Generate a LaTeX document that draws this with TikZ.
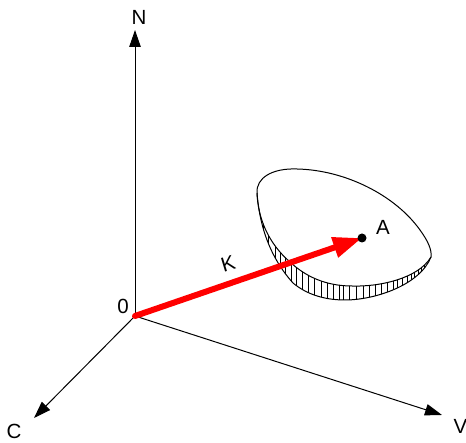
\documentclass[tikz,border=0pt]{standalone}
\usepackage{xcolor}
\usepackage{fontspec}
\setmainfont{Liberation Sans}
\usetikzlibrary{arrows.meta, calc}
\definecolor{vecred}{HTML}{FF0000}
\tikzset{
  lab/.style={font=\fontsize{20.5}{23}\selectfont, text=black, inner sep=0pt},
  axis/.style={-{Triangle[length=17pt,width=11.5pt]}, line width=1pt, draw=black},
  vec/.style={-{Triangle[length=29pt,width=20pt]}, line width=6pt, draw=vecred, line cap=round},
  rim/.style={line width=1pt, draw=black},
  hatch/.style={line width=0.7pt, draw=black},
}

\begin{document}
\begin{tikzpicture}[x=1pt, y=-1pt]
  \clip (0,0) rectangle (466,443);
  \coordinate (o) at (135,316);
  \coordinate (ntip) at (135,30);
  \coordinate (ctip) at (34,418);
  \coordinate (vtip) at (442,415);
  \coordinate (a) at (362,238);
  \coordinate (bl) at (257,193);
  \coordinate (br) at (431,257);
  % hatching between the two lower edges
  \begin{scope}
    \clip (bl) .. controls (259,218) and (266,253) .. (293,283)
      .. controls (305,293) and (322,300) .. (345,300)
      .. controls (375,300) and (420,285) .. (br)
      .. controls (418,279) and (378,287) .. (352,286)
      .. controls (325,286) and (305,276) .. (290,262)
      .. controls (268,243) and (258,218) .. (bl) -- cycle;
    \foreach \hx in {259,263,268,275,280,285,291,296,302,308,314,321,327,333,339,343,349,356,363,369,375,381,387,393,397,402,407,411,414,418,421,424} {
      \draw[hatch] (\hx,190) -- (\hx,305);
    }
  \end{scope}
  % upper face
  \draw[rim] (bl) .. controls (256,178) and (272,168) .. (297,169)
    .. controls (345,170) and (395,195) .. (420,230)
    .. controls (428,241) and (432,250) .. (br)
    .. controls (418,279) and (378,287) .. (352,286)
    .. controls (325,286) and (305,276) .. (290,262)
    .. controls (268,243) and (258,218) .. (bl) -- cycle;
  % underside
  \draw[rim] (bl) .. controls (259,218) and (266,253) .. (293,283)
    .. controls (305,293) and (322,300) .. (345,300)
    .. controls (375,300) and (420,285) .. (br);
  % axes
  \draw[axis] (o) -- (ntip);
  \draw[axis] (o) -- (ctip);
  \draw[axis] (o) -- (vtip);
  \draw[vec] (o) -- (a);
  \fill[black] (a) circle (4.5);
  % labels
  \node[lab] (nlab) at (139,17) {N};
  \node[lab] (zero) at (123,306) {0};
  \node[lab] (clab) at (14,431.5) {C};
  \node[lab] (vlab) at (460.5,426) {V};
  \node[lab] (alab) at (383,227) {A};
  \node[lab, rotate=17] (klab) at (228,264) {K};
\end{tikzpicture}
\end{document}
